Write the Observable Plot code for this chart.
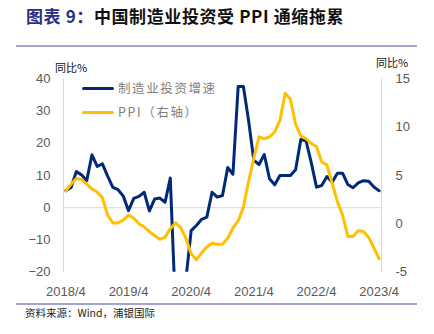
<!DOCTYPE html>
<html><head><meta charset="utf-8">
<script src="https://cdn.jsdelivr.net/npm/d3@7"></script>
<script src="https://cdn.jsdelivr.net/npm/@observablehq/plot@0.6"></script>
<style>
body{margin:0;background:#fff;}
#wrap{position:relative;width:434px;height:334px;overflow:hidden;font-family:"Noto Sans CJK SC","Noto Sans",sans-serif;}
#title{position:absolute;left:26px;top:6px;font-size:17px;line-height:20px;font-weight:bold;letter-spacing:0.6px;white-space:nowrap;color:#111;}
#title .lead{color:#2B2F7E;}
.hr{position:absolute;left:16px;width:401px;height:2px;background:#A3A3CF;}
#src{position:absolute;left:25px;top:306px;font-size:10.5px;line-height:14px;color:#222;white-space:nowrap;}
.unit{position:absolute;font-size:11px;line-height:12px;color:#111;white-space:nowrap;}
.leg{position:absolute;left:82px;height:0;}
.leg .sw{position:absolute;left:0;width:32px;height:3px;border-radius:2px;}
.leg .tx{position:absolute;left:36px;top:-8px;font-size:12.5px;line-height:16px;letter-spacing:1.6px;color:#7F7F7F;white-space:nowrap;}
#chart{position:absolute;left:0;top:0;}
</style>
</head><body>
<div id="wrap">
  <div id="title"><span class="lead">图表 9：</span>中国制造业投资受 PPI 通缩拖累</div>
  <div class="hr" style="top:45px"></div>
  <div id="chart"></div>
  <div class="unit" style="left:55px;top:61px">同比%</div>
  <div class="unit" style="left:376px;top:56px">同比%</div>
  <div class="leg" style="top:88px"><div class="sw" style="background:#002A75;top:-1.5px"></div><div class="tx">制造业投资增速</div></div>
  <div class="leg" style="top:112px"><div class="sw" style="background:#FFC000;top:-1.5px"></div><div class="tx">PPI（右轴）</div></div>
  <div class="hr" style="top:303px"></div>
  <div id="src">资料来源：Wind，浦银国际</div>
</div>
<script>
const months = [
 "2018/4","2018/5","2018/6","2018/7","2018/8","2018/9","2018/10","2018/11","2018/12",
 "2019/1","2019/2","2019/3","2019/4","2019/5","2019/6","2019/7","2019/8","2019/9","2019/10","2019/11","2019/12",
 "2020/1","2020/2","2020/3","2020/4","2020/5","2020/6","2020/7","2020/8","2020/9","2020/10","2020/11","2020/12",
 "2021/1","2021/2","2021/3","2021/4","2021/5","2021/6","2021/7","2021/8","2021/9","2021/10","2021/11","2021/12",
 "2022/1","2022/2","2022/3","2022/4","2022/5","2022/6","2022/7","2022/8","2022/9","2022/10","2022/11","2022/12",
 "2023/1","2023/2","2023/3","2023/4"
];
const mfgInvest = [
 5.3, 6.3, 11.2, 10.2, 8.4, 16.4, 12.8, 13.6, 9.8,
 6.3, 5.6, 3.6, -0.9, 2.9, 3.5, 4.8, -1.0, 2.7, 3.0, 1.7, 9.2,
 -31.5, -31.5, -22.0, -7.1, -5.5, -3.6, -2.9, 4.8, 3.3, 3.8, 12.5, 10.4,
 37.6, 37.6, 27.0, 14.7, 13.4, 16.5, 9.0, 7.1, 10.0, 10.0, 10.0, 11.8,
 21.2, 20.7, 14.0, 6.4, 6.9, 9.7, 7.9, 10.7, 10.7, 7.2, 6.2, 7.7,
 8.4, 8.2, 6.4, 5.3
];
const ppi = [
 3.4, 4.1, 4.7, 4.6, 4.1, 3.6, 3.3, 2.7, 0.9,
 0.1, 0.1, 0.4, 0.9, 0.6, 0.0, -0.3, -0.8, -1.2, -1.6, -1.4, -0.5,
 0.1, -0.4, -1.5, -3.1, -3.7, -3.0, -2.4, -2.0, -2.1, -2.1, -1.5, -0.4,
 0.3, 1.7, 4.4, 6.8, 9.0, 8.8, 9.0, 9.5, 10.7, 13.5, 12.9, 10.3,
 9.1, 8.8, 8.3, 8.0, 6.4, 6.1, 4.2, 2.3, 0.9, -1.3, -1.3, -0.7,
 -0.8, -1.4, -2.5, -3.6
];
const xTickLabels = ["2018/4","2019/4","2020/4","2021/4","2022/4","2023/4"];
const leftTicks = [-20, -10, 0, 10, 20, 30, 40];
const rightTicks = [-5, 0, 5, 10, 15];

// right axis (-5..15) shares the frame with left axis (-20..40)
const toLeft = r => 3 * r - 5;
const toRight = l => (l + 5) / 3;

const xDomain = [-0.45, months.length - 1 + 0.45];
const rows = months.map((m, i) => ({i, m, mfg: mfgInvest[i], ppi: ppi[i]}));

const chart = Plot.plot({
  width: 434,
  height: 300,
  marginLeft: 63,
  marginRight: 53,
  marginTop: 78.3,
  marginBottom: 28.3,
  style: {fontFamily: "'Liberation Sans', Arial, sans-serif", fontSize: "13px", background: "transparent"},
  x: {type: "linear", domain: xDomain},
  y: {domain: [-20, 40]},
  marks: [
    Plot.ruleY([0], {stroke: "#D9D9D9", strokeWidth: 1}),
    Plot.ruleX(xDomain, {stroke: "#D9D9D9", strokeWidth: 1}),
    Plot.axisY({anchor: "left", ticks: leftTicks, tickSize: 0, tickPadding: 13, label: null, fill: "#595959"}),
    Plot.axisY({anchor: "right", ticks: rightTicks.map(toLeft), tickFormat: d => String(Math.round(toRight(d))), tickSize: 0, tickPadding: 14, label: null, fill: "#595959"}),
    Plot.axisX({ticks: xTickLabels.map(l => months.indexOf(l)), tickFormat: i => months[i], tickSize: 0, tickPadding: 15, label: null, fill: "#595959"}),
    Plot.line(rows, {x: "i", y: "mfg", stroke: "#002A75", strokeWidth: 3, clip: true, strokeLinejoin: "round"}),
    Plot.line(rows, {x: "i", y: d => toLeft(d.ppi), stroke: "#FFC000", strokeWidth: 3, strokeLinejoin: "round"})
  ]
});
document.getElementById("chart").appendChild(chart);
</script>
</body></html>
